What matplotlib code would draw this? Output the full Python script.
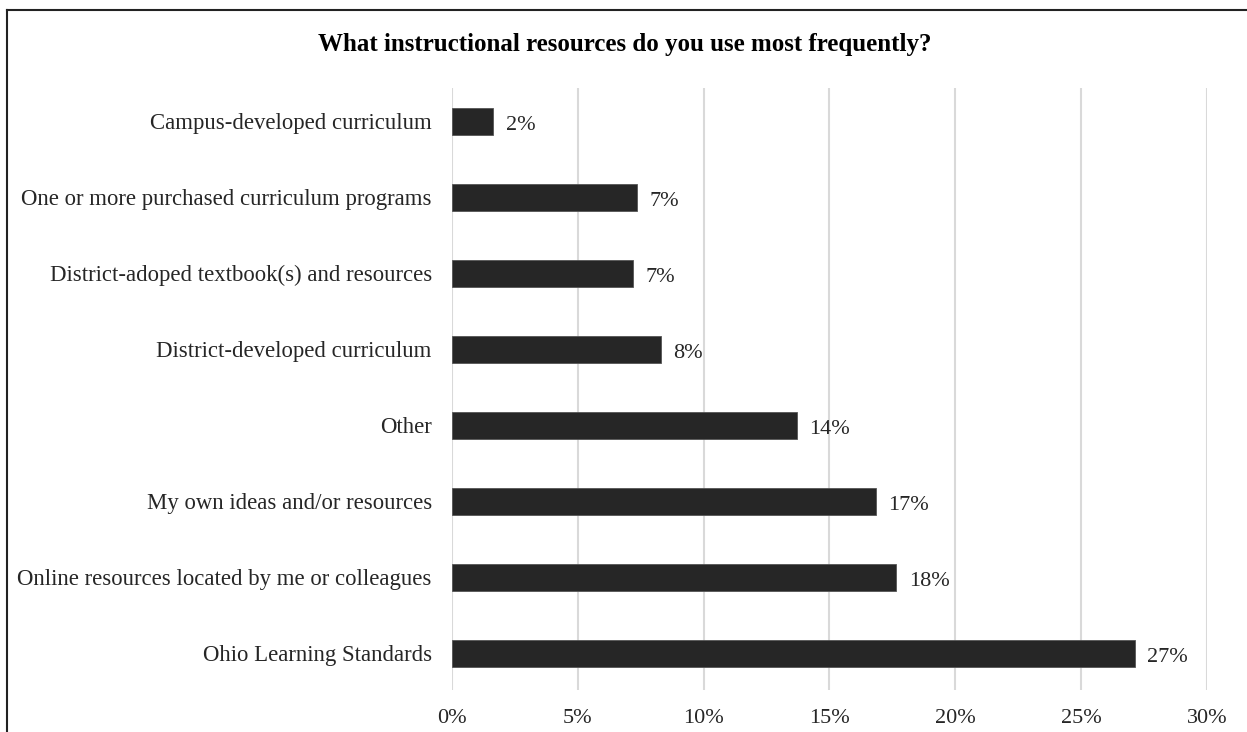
import matplotlib.pyplot as plt
from matplotlib.lines import Line2D
from matplotlib.ticker import FuncFormatter

# survey categories, bottom to top
categories = [
    "Ohio Learning Standards",
    "Online resources located by me or colleagues",
    "My own ideas and/or resources",
    "Other",
    "District-developed curriculum",
    "District-adoped textbook(s) and resources",
    "One or more purchased curriculum programs",
    "Campus-developed curriculum",
]
shares = [27.13, 17.65, 16.85, 13.7, 8.3, 7.2, 7.35, 1.63]
labels = ["27%", "18%", "17%", "14%", "8%", "7%", "7%", "2%"]
xticks = [0, 5, 10, 15, 20, 25, 30]

plt.rcParams['font.family'] = ['Liberation Serif', 'DejaVu Serif']

fig = plt.figure(figsize=(12.47, 7.32), dpi=100)
ax = fig.add_axes([452 / 1247, 1 - 690 / 732, (1207 - 452) / 1247, 602 / 732])

ypos = list(range(len(categories)))
ax.barh(ypos, shares, height=0.355, color='#262626', edgecolor='#555555',
        linewidth=0.6, zorder=3)

for y, v, lab in zip(ypos, shares, labels):
    ax.annotate(lab, xy=(v, y), xytext=(9, -3), textcoords='offset points',
                ha='left', va='center', fontsize=16, color='#262626')

ax.set_xlim(0, 30)
ax.set_ylim(-0.48, 7.434)
ax.set_xticks(xticks)
ax.xaxis.set_major_formatter(FuncFormatter(lambda v, p: '{:.0f}%'.format(v)))
ax.set_yticks(ypos)
ax.set_yticklabels(categories, fontsize=16.4)
ax.tick_params(axis='x', length=0, labelsize=16, colors='#262626')
ax.tick_params(axis='y', length=0, colors='#262626', pad=14.5)
ax.tick_params(axis='x', pad=14)

ax.grid(axis='x', color='#d9d9d9', linewidth=1.5, zorder=0)
for side in ['top', 'right', 'bottom', 'left']:
    ax.spines[side].set_visible(False)

fig.text(0.501, 1 - 45 / 732, "What instructional resources do you use most frequently?",
         ha='center', va='center', fontsize=18, fontweight='bold', color='black')

# frame lines on top and left
fig.add_artist(Line2D([7 / 1247, 1], [1 - 10 / 732, 1 - 10 / 732],
                      transform=fig.transFigure, color='#222222', linewidth=1.5))
fig.add_artist(Line2D([7 / 1247, 7 / 1247], [0, 1 - 10 / 732],
                      transform=fig.transFigure, color='#222222', linewidth=1.5))

fig.savefig('out.png', dpi=100)
